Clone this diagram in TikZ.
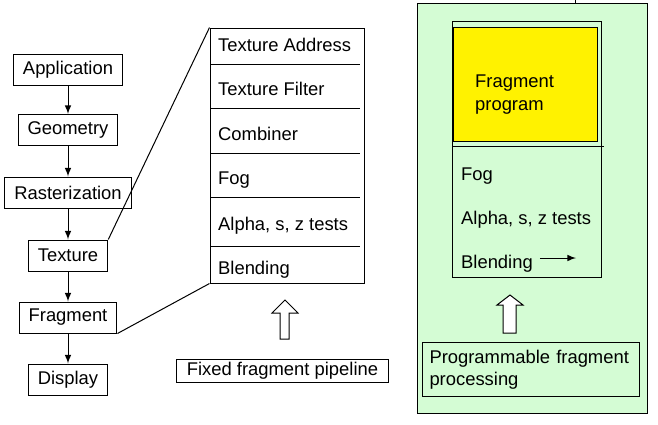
\documentclass[tikz,border=0pt]{standalone}
\usepackage{fontspec}
\setmainfont{Liberation Sans}
\usepackage{tikz}
\definecolor{progreen}{RGB}{212,252,212}

\begin{document}
\begin{tikzpicture}[x=0.5pt, y=-0.5pt, >=latex, line width=0.5pt,
  every node/.style={font=\fontsize{9.2}{11}\selectfont},
  stage/.style={draw, inner xsep=4.8pt, minimum height=15.5pt},
  unit/.style={anchor=base west}]
  \useasboundingbox (0,0) rectangle (658,424);

  % Pipeline
  \node[stage] (app) at (68,69.5) {Application};
  \node[stage] (geo) at (68,130) {Geometry};
  \node[stage] (rast) at (68,192.5) {Rasterization};
  \node[stage] (tex) at (68,255.5) {Texture};
  \node[stage] (frag) at (68,317.5) {Fragment};
  \node[stage] (disp) at (68,379.5) {Display};
  \draw[->] (app) -- (geo);
  \draw[->] (geo) -- (rast);
  \draw[->] (rast) -- (tex);
  \draw[->] (tex) -- (frag);
  \draw[->] (frag) -- (disp);

  % Fixed stages
  \node[draw, minimum width=77pt, minimum height=127.5pt] (stack) at (287,155.5) {};
  \draw (210,64) -- (360,64);
  \draw (210,108) -- (360,108);
  \draw (210,153) -- (360,153);
  \draw (210,197) -- (360,197);
  \draw (210,246) -- (360,246);
  \node[unit] (faddr) at (211,51.5) {Texture Address};
  \node[unit] (ffilt) at (211,95.5) {Texture Filter};
  \node[unit] (fcomb) at (211,140.5) {Combiner};
  \node[unit] (ffog) at (211,184.5) {Fog};
  \node[unit] (ftest) at (211,230.5) {Alpha, s, z tests};
  \node[unit] (fblend) at (211,274.5) {Blending};
  \draw (tex.north east) -- (stack.north west);
  \draw (frag.south east) -- (stack.south west);

  % Fixed label
  \draw[fill=white] (280,339) -- (280,313) -- (272,313) -- (285,300) -- (298,313) -- (289,313) -- (289,339) -- cycle;
  \node[draw, inner xsep=5pt, inner ysep=1pt, minimum height=11.5pt] (fixed) at (282.5,370.5) {Fixed fragment pipeline};

  % Programmable
  \draw[fill=progreen] (417,3) rectangle (647,413);
  \draw (575,0) -- (575,3);
  \draw (452,21) rectangle (601,277);
  \draw[fill=yellow] (453,27) rectangle (597,141);
  \draw (453,146) -- (604,146);
  \node[anchor=west, align=left, font=\fontsize{9.2}{11.5}\selectfont] (fprog) at (468,95) {Fragment\\program};
  \node[unit] (pfog) at (454,180) {Fog};
  \node[unit] (ptest) at (454,224) {Alpha, s, z tests};
  \node[unit] (pblend) at (454,268) {Blending};
  \coordinate (pout) at (576,258);
  \draw[->] (pblend.east |- pout) -- (pout);
  \draw[fill=white] (503,333) -- (503,305) -- (497,305) -- (510,295) -- (523,305) -- (516,305) -- (516,333) -- cycle;
  \node[draw, anchor=north west, align=left, text width=101.5pt, inner xsep=3.5pt, minimum height=27pt] (pprog) at (422,342) {Programmable fragment\\processing};
\end{tikzpicture}
\end{document}
